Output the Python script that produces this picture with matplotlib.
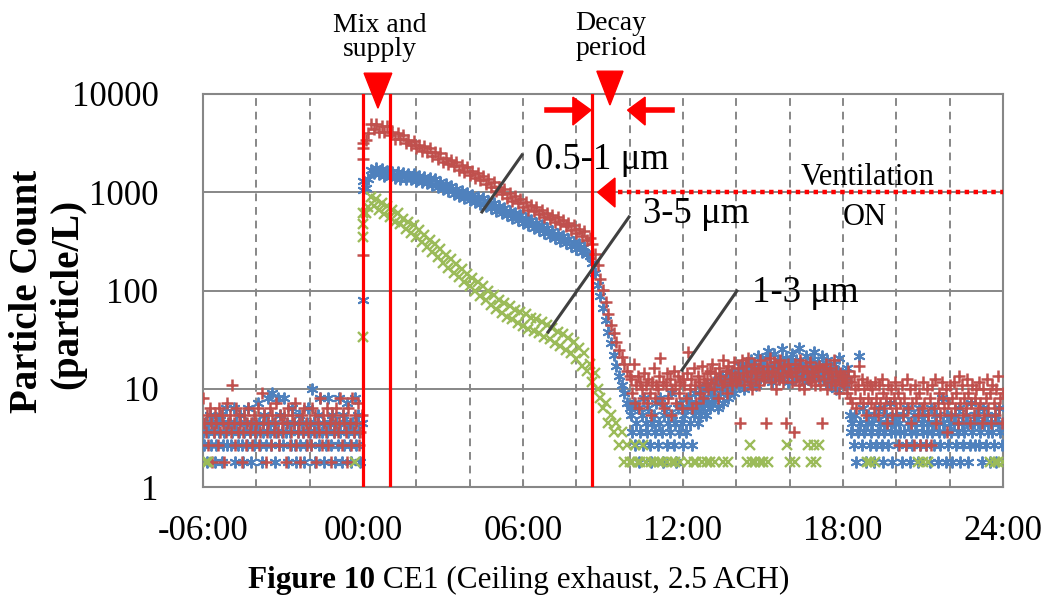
import numpy as np
import matplotlib
matplotlib.use("Agg")
import matplotlib.pyplot as plt
import matplotlib.transforms as mtransforms
from matplotlib.ticker import MultipleLocator, NullLocator

# Readings in particle/L. Background and ventilation periods are read every
# 0.05 h, the decay every 0.1 h; *_start are the readings logged at 00:00.
# 0.9 = a single count, which falls below the axis.

# 0.5-1 um (blue), from -6.0 h
blue_pre = [3.6, 2.7, 4.5, 1.8, 3.6, 5.4, 2.7, 4.5, 3.6, 1.8, 2.7, 4.5, 3.6, 5.4, 1.8, 2.7, 3.6, 6.3, 2.7, 4.5,
            4.5, 2.7, 3.6, 6.3, 1.8, 4.5, 2.7, 3.6, 5.4, 2.7, 1.8, 3.6, 4.5, 2.7, 6.3, 3.6, 1.8, 4.5, 2.7, 3.6,
            3.6, 7.2, 4.5, 2.7, 1.8, 3.6, 5.4, 2.7, 4.5, 8.1, 3.6, 2.7, 9.0, 4.5, 1.8, 3.6, 8.1, 2.7, 5.4, 3.6,
            2.7, 8.1, 3.6, 4.5, 1.8, 3.6, 2.7, 6.3, 4.5, 2.7, 1.8, 3.6, 5.4, 2.7, 4.5, 3.6, 1.8, 2.7, 4.5, 6.3,
            3.6, 2.7, 9.9, 4.5, 1.8, 3.6, 5.4, 2.7, 8.1, 3.6, 4.5, 1.8, 2.7, 3.6, 8.1, 4.5, 2.7, 5.4, 3.6, 1.8,
            4.5, 2.7, 8.1, 3.6, 1.8, 5.4, 2.7, 4.5, 7.2, 3.6, 2.7, 1.8, 4.5, 3.6, 8.1, 2.7, 5.4, 3.6, 1.8, 4.5]
blue_start = [80, 1050, 1300]
# from 0.1 h
blue_decay = [1100, 1380, 1700, 1560, 1780, 1520, 1720, 1470, 1660, 1440,
              1620, 1400, 1590, 1380, 1580, 1370, 1540, 1350, 1530, 1300,
              1480, 1270, 1430, 1230, 1400, 1190, 1350, 1140, 1280, 1080,
              1220, 1020, 1150, 970, 1090, 920, 1040, 870, 980, 830,
              940, 790, 900, 760, 870, 720, 810, 690, 770, 650,
              730, 610, 690, 580, 650, 550, 610, 520, 580, 490,
              550, 460, 520, 435, 485, 415, 460, 385, 430, 360,
              400, 340, 380, 320, 360, 305, 335, 285, 315, 265,
              295, 245, 275, 235, 225, 190, 150, 115, 88, 66,
              50, 38, 29, 22, 17.1, 13.5, 10.8, 9.0, 7.2, 6.3]
# from 10.05 h
blue_post = [5.4, 3.6, 7.2, 2.7, 4.5, 6.3, 1.8, 3.6, 5.4, 2.7, 8.1, 4.5, 3.6, 6.3, 2.7, 1.8, 4.5, 5.4, 3.6, 7.2,
             2.7, 4.5, 8.1, 3.6, 1.8, 5.4, 6.3, 2.7, 4.5, 3.6, 9.0, 5.4, 2.7, 4.5, 1.8, 6.3, 3.6, 7.2, 4.5, 2.7,
             5.4, 3.6, 6.3, 8.1, 4.5, 7.2, 2.7, 5.4, 9.0, 6.3, 4.5, 7.2, 5.4, 9.9, 6.3, 8.1, 5.4, 10.8, 7.2, 6.3,
             9.0, 7.2, 11.7, 8.1, 10.8, 6.3, 12.6, 9.0, 13.5, 7.2, 11.7, 9.9, 14.4, 8.1, 12.6, 10.8, 15.3, 9.0, 13.5, 11.7,
             14.4, 10.8, 17.1, 12.6, 15.3, 9.9, 18.0, 13.5, 16.2, 11.7, 19.8, 14.4, 12.6, 17.1, 10.8, 21.6, 15.3, 13.5, 18.9, 16.2,
             12.6, 20.7, 15.3, 24.3, 13.5, 17.1, 11.7, 22.5, 16.2, 14.4, 19.8, 12.6, 18.0, 25.2, 15.3, 13.5, 20.7, 16.2, 11.7, 18.9,
             14.4, 22.5, 17.1, 12.6, 19.8, 15.3, 26.1, 13.5, 18.0, 16.2, 11.7, 21.6, 14.4, 17.1, 12.6, 19.8, 15.3, 23.4, 13.5, 16.2,
             18.9, 12.6, 15.3, 21.6, 13.5, 17.1, 11.7, 19.8, 14.4, 10.8, 16.2, 12.6, 18.0, 13.5, 9.9, 15.3, 20.7, 12.6, 14.4, 11.7,
             13.5, 10.8, 16.2, 12.6, 5.4, 3.6, 4.5, 2.7, 5.4, 1.8, 3.6, 21.6, 4.5, 2.7, 6.3, 3.6, 1.8, 4.5, 5.4, 2.7,
             3.6, 4.5, 1.8, 5.4, 2.7, 3.6, 6.3, 4.5, 2.7, 1.8, 3.6, 5.4, 4.5, 2.7, 7.2, 3.6, 1.8, 4.5, 3.6, 5.4,
             2.7, 4.5, 3.6, 1.8, 5.4, 3.6, 2.7, 6.3, 4.5, 1.8, 3.6, 2.7, 5.4, 4.5, 3.6, 1.8, 6.3, 2.7, 4.5, 3.6,
             5.4, 2.7, 3.6, 4.5, 1.8, 6.3, 3.6, 2.7, 4.5, 5.4, 1.8, 3.6, 2.7, 8.1, 4.5, 3.6, 1.8, 5.4, 2.7, 4.5,
             3.6, 1.8, 4.5, 5.4, 2.7, 3.6, 6.3, 1.8, 4.5, 2.7, 3.6, 5.4, 4.5, 1.8, 2.7, 7.2, 3.6, 4.5, 2.7, 5.4,
             4.5, 2.7, 3.6, 1.8, 6.3, 4.5, 2.7, 5.4, 3.6, 1.8, 4.5, 3.6, 2.7, 5.4, 1.8, 4.5, 6.3, 3.6, 2.7, 4.5]

# 1-3 um (red)
red_pre = [8.1, 4.5, 3.6, 5.4, 2.7, 6.3, 4.5, 1.8, 3.6, 5.4, 4.5, 2.7, 6.3, 3.6, 5.4, 4.5, 1.8, 3.6, 7.2, 4.5,
           5.4, 3.6, 10.8, 4.5, 2.7, 6.3, 3.6, 5.4, 4.5, 1.8, 3.6, 5.4, 2.7, 4.5, 6.3, 3.6, 4.5, 2.7, 5.4, 3.6,
           4.5, 6.3, 2.7, 3.6, 9.0, 4.5, 5.4, 1.8, 3.6, 4.5, 6.3, 2.7, 5.4, 3.6, 4.5, 7.2, 3.6, 2.7, 5.4, 4.5,
           3.6, 5.4, 1.8, 4.5, 6.3, 2.7, 3.6, 5.4, 4.5, 7.2, 2.7, 3.6, 4.5, 1.8, 5.4, 3.6, 6.3, 4.5, 2.7, 3.6,
           4.5, 2.7, 6.3, 3.6, 5.4, 1.8, 4.5, 3.6, 8.1, 2.7, 5.4, 4.5, 3.6, 6.3, 2.7, 4.5, 1.8, 5.4, 3.6, 4.5,
           6.3, 3.6, 4.5, 8.1, 2.7, 5.4, 4.5, 3.6, 1.8, 6.3, 4.5, 2.7, 8.1, 3.6, 5.4, 4.5, 7.2, 2.7, 3.6, 5.4]
red_start = [230, 2200, 2800, 3200]
red_decay = [3400, 4050, 4950, 4450, 5000, 4150, 4700, 4100, 4700, 3850,
             4150, 3500, 4000, 3500, 3850, 3150, 3400, 3050, 3350, 2800,
             3050, 2650, 2950, 2550, 2850, 2350, 2560, 2200, 2480, 2050,
             2250, 1920, 2150, 1850, 2050, 1700, 1880, 1620, 1800, 1500,
             1650, 1400, 1560, 1320, 1480, 1220, 1350, 1120, 1260, 1030,
             1140, 950, 1070, 880, 990, 820, 910, 770, 850, 710,
             790, 665, 745, 640, 700, 605, 665, 560, 620, 530,
             590, 495, 560, 475, 525, 450, 490, 415, 465, 385,
             425, 355, 400, 330, 345, 300, 235, 180, 130, 102,
             76, 58, 45, 37, 30, 25, 21, 18, 15.3, 13.5]
red_post = [12.6, 9.0, 18.0, 7.2, 10.8, 13.5, 6.3, 11.7, 9.9, 8.1, 14.4, 10.8, 7.2, 12.6, 9.0, 5.4, 11.7, 16.2, 8.1, 10.8,
            9.9, 13.5, 20.7, 7.2, 11.7, 6.3, 10.8, 14.4, 8.1, 12.6, 5.4, 9.9, 15.3, 10.8, 7.2, 13.5, 9.0, 11.7, 6.3, 12.6,
            10.8, 8.1, 14.4, 23.4, 9.9, 12.6, 6.3, 16.2, 10.8, 7.2, 13.5, 11.7, 9.0, 17.1, 8.1, 12.6, 10.8, 14.4, 9.9, 15.3,
            11.7, 18.0, 9.9, 14.4, 12.6, 8.1, 16.2, 13.5, 10.8, 19.8, 11.7, 15.3, 9.0, 17.1, 12.6, 14.4, 10.8, 18.9, 13.5, 11.7,
            16.2, 12.6, 4.5, 19.8, 14.4, 10.8, 17.1, 13.5, 20.7, 11.7, 15.3, 9.9, 18.0, 14.4, 12.6, 16.2, 10.8, 19.8, 13.5, 15.3,
            12.6, 4.5, 17.1, 14.4, 20.7, 11.7, 15.3, 18.9, 13.5, 9.9, 16.2, 12.6, 19.8, 14.4, 11.7, 17.1, 4.5, 13.5, 18.0, 15.3,
            14.4, 11.7, 3.6, 18.0, 13.5, 16.2, 10.8, 19.8, 12.6, 15.3, 9.9, 17.1, 14.4, 12.6, 18.9, 11.7, 15.3, 13.5, 10.8, 16.2,
            13.5, 17.1, 10.8, 4.5, 15.3, 12.6, 18.0, 9.9, 14.4, 16.2, 11.7, 13.5, 19.8, 10.8, 15.3, 12.6, 9.0, 14.4, 11.7, 13.5,
            10.8, 12.6, 9.0, 15.3, 8.1, 11.7, 7.2, 13.5, 9.9, 6.3, 10.8, 17.1, 8.1, 12.6, 7.2, 9.9, 5.4, 11.7, 8.1, 10.8,
            7.2, 9.9, 6.3, 11.7, 8.1, 5.4, 10.8, 7.2, 12.6, 9.0, 6.3, 8.1, 4.5, 10.8, 7.2, 9.9, 5.4, 8.1, 11.7, 6.3,
            9.0, 2.7, 7.2, 10.8, 5.4, 8.1, 2.7, 12.6, 6.3, 9.9, 4.5, 7.2, 2.7, 10.8, 8.1, 5.4, 9.0, 2.7, 6.3, 11.7,
            7.2, 2.7, 9.9, 5.4, 8.1, 2.7, 10.8, 6.3, 12.6, 4.5, 7.2, 9.0, 5.4, 11.7, 8.1, 6.3, 9.9, 3.6, 7.2, 10.8,
            5.4, 8.1, 11.7, 6.3, 9.0, 4.5, 13.5, 7.2, 10.8, 5.4, 8.1, 6.3, 12.6, 9.0, 4.5, 7.2, 10.8, 5.4, 8.1, 9.9,
            6.3, 11.7, 7.2, 4.5, 9.9, 5.4, 8.1, 12.6, 6.3, 9.0, 4.5, 10.8, 7.2, 5.4, 9.9, 13.5, 6.3, 8.1, 4.5, 9.0]

# 3-5 um (green), read every 0.1 h outside the decay as well
green_pre = [0.9, 1.8, 1.8, 0.9, 0.9, 0.9, 0.9, 0.9, 0.9, 0.9,
             0.9, 0.9, 0.9, 0.9, 0.9, 0.9, 0.9, 0.9, 0.9, 0.9,
             0.9, 0.9, 0.9, 0.9, 0.9, 0.9, 0.9, 0.9, 0.9, 0.9,
             0.9, 0.9, 0.9, 0.9, 0.9, 0.9, 0.9, 0.9, 0.9, 0.9,
             0.9, 0.9, 0.9, 0.9, 0.9, 0.9, 0.9, 0.9, 0.9, 0.9,
             0.9, 0.9, 0.9, 0.9, 0.9, 0.9, 0.9, 1.8, 0.9, 0.9]
green_start = [34, 350, 470, 620]
green_decay = [620, 700, 900, 720, 860, 660, 780, 600, 720, 560,
               660, 500, 610, 470, 540, 420, 500, 385, 460, 350,
               410, 315, 370, 280, 330, 245, 295, 218, 262, 192,
               232, 170, 208, 152, 185, 136, 166, 122, 148, 110,
               134, 98, 121, 88, 110, 80, 99, 72, 90, 65,
               80, 59, 74, 54, 69, 51, 64, 47, 60, 44,
               57, 41, 53, 39, 51, 37, 48, 34, 45, 32,
               42, 29, 38, 27, 36, 25, 33, 23, 30, 20,
               26, 17.1, 23, 15.3, 18.0, 11.7, 14.4, 9.9, 8.1, 6.3,
               7.2, 4.5, 5.4, 3.6, 4.5, 2.7, 3.6, 1.8, 2.7, 1.8]
green_post = [1.8, 2.7, 1.8, 1.8, 2.7, 1.8, 0.9, 1.8, 1.8, 0.9,
              1.8, 1.8, 0.9, 1.8, 0.9, 1.8, 1.8, 0.9, 1.8, 0.9,
              0.9, 1.8, 0.9, 1.8, 1.8, 0.9, 1.8, 0.9, 1.8, 1.8,
              0.9, 1.8, 0.9, 0.9, 1.8, 0.9, 1.8, 0.9, 0.9, 0.9,
              0.9, 0.9, 0.9, 1.8, 2.7, 1.8, 1.8, 0.9, 1.8, 1.8,
              0.9, 1.8, 0.9, 0.9, 0.9, 0.9, 0.9, 0.9, 2.7, 1.8,
              0.9, 1.8, 0.9, 0.9, 0.9, 0.9, 2.7, 1.8, 2.7, 1.8,
              2.7, 0.9, 0.9, 0.9, 0.9, 0.9, 0.9, 0.9, 0.9, 0.9,
              0.9, 0.9, 0.9, 0.9, 0.9, 0.9, 0.9, 0.9, 1.8, 1.8,
              0.9, 1.8, 0.9, 0.9, 0.9, 0.9, 0.9, 0.9, 0.9, 0.9,
              0.9, 0.9, 0.9, 0.9, 0.9, 0.9, 0.9, 1.8, 0.9, 1.8,
              0.9, 1.8, 0.9, 0.9, 0.9, 0.9, 0.9, 0.9, 0.9, 0.9,
              0.9, 0.9, 0.9, 0.9, 0.9, 0.9, 0.9, 0.9, 0.9, 0.9,
              0.9, 0.9, 0.9, 0.9, 1.8, 0.9, 1.8, 1.8, 0.9, 1.8]

event_times = [0.0, 1.0, 8.6]
tick_hours = [-6, 0, 6, 12, 18, 24]
tick_labels = ["-06:00", "00:00", "06:00", "12:00", "18:00", "24:00"]
y_ticks = [1, 10, 100, 1000, 10000]

plt.rcParams["font.family"] = ["Liberation Serif", "DejaVu Serif"]
RED = "#FF0000"
GRID = "#878787"


def seg(t0, step, vals):
    return np.round(t0 + step * np.arange(len(vals)), 2), np.asarray(vals, float)


def series(*segs):
    t = np.concatenate([s[0] for s in segs])
    v = np.concatenate([s[1] for s in segs])
    return t, np.where(v >= 1, v, np.nan)   # single counts are off the scale


tb, vb = series(seg(-6.0, 0.05, blue_pre), seg(0.0, 0, blue_start),
                seg(0.1, 0.1, blue_decay), seg(10.05, 0.05, blue_post))
tr, vr = series(seg(-6.0, 0.05, red_pre), seg(0.0, 0, red_start),
                seg(0.1, 0.1, red_decay), seg(10.05, 0.05, red_post))
tg, vg = series(seg(-6.0, 0.1, green_pre), seg(0.0, 0, green_start),
                seg(0.1, 0.1, green_decay), seg(10.1, 0.1, green_post))

fig = plt.figure(figsize=(10.51, 6.0), dpi=100)
ax = fig.add_axes([203 / 1051, 1 - 487 / 600, 800 / 1051, 393 / 600])
ax.set_yscale("log")
ax.set_xlim(-6, 24)
ax.set_ylim(1, 10000)

ax.plot(tb, vb, ls="none", marker=(6, 2, 0), ms=8.5, mew=1.4, color="#4F81BD", zorder=3)
ax.plot(tr, vr, ls="none", marker="+", ms=9, mew=1.8, color="#C0504D", zorder=3)
ax.plot(tg, vg, ls="none", marker="x", ms=7.5, mew=1.7, color="#9BBB59", zorder=3)

for x in event_times:
    ax.axvline(x, color=RED, lw=2.3, zorder=5)

# axes styling
ax.set_xticks(tick_hours)
ax.set_xticklabels(tick_labels)
ax.xaxis.set_minor_locator(MultipleLocator(2))
ax.set_yticks(y_ticks)
ax.set_yticklabels([str(v) for v in y_ticks])
ax.yaxis.set_minor_locator(NullLocator())
ax.tick_params(axis="x", which="both", direction="in", length=5, color=GRID,
               labelsize=25, pad=20)
ax.tick_params(axis="y", length=0, labelsize=25, pad=32)
ax.xaxis.grid(True, which="both", ls=(0, (4, 3)), color=GRID, lw=1.4)
ax.yaxis.grid(True, which="major", ls="-", color=GRID, lw=1.4)
ax.set_axisbelow(True)
for s in ax.spines.values():
    s.set_color(GRID)
    s.set_linewidth(1.5)

# markers above the plot
top = mtransforms.blended_transform_factory(ax.transData, ax.transAxes)
ax.fill([0.04, 1.08, 0.56], [1.053, 1.053, 0.964], color=RED, transform=top, clip_on=False, zorder=6)
ax.fill([8.77, 9.75, 9.26], [1.058, 1.058, 0.972], color=RED, transform=top, clip_on=False, zorder=6)
ax.plot([6.9, 7.95], [0.959, 0.959], color=RED, lw=4, transform=top, clip_on=False, zorder=6)
ax.fill([8.55, 7.87, 7.87], [0.959, 0.992, 0.921], color=RED, transform=top, clip_on=False, zorder=6)
ax.plot([10.5, 11.59], [0.959, 0.959], color=RED, lw=4, transform=top, clip_on=False, zorder=6)
ax.fill([9.92, 10.58, 10.58], [0.959, 0.992, 0.921], color=RED, transform=top, clip_on=False, zorder=6)

ax.text(0.62, 1.158, "Mix and", transform=top, ha="center", va="baseline", fontsize=20)
ax.text(0.62, 1.096, "supply", transform=top, ha="center", va="baseline", fontsize=20)
ax.text(9.3, 1.163, "Decay", transform=top, ha="center", va="baseline", fontsize=20)
ax.text(9.3, 1.099, "period", transform=top, ha="center", va="baseline", fontsize=20)

# ventilation arrow
ax.plot([9.56, 24], [1000, 1000], color=RED, lw=3.2, ls=(0, (1, 1)), zorder=6,
        solid_capstyle="butt", dash_capstyle="butt")
ax.fill([8.8, 9.45, 9.45], [1000, 1396, 707], color=RED, zorder=6)
ax.text(18.92, 1186, "Ventilation", ha="center", va="baseline", fontsize=22)
ax.text(18.83, 464, "ON", ha="center", va="baseline", fontsize=22)

# size labels with leader lines
LEAD = "#404040"
ax.plot([5.96, 4.46], [2395, 630], color=LEAD, lw=2.2, zorder=6)
ax.plot([9.975, 6.94], [560, 37.8], color=LEAD, lw=2.2, zorder=6)
ax.plot([14.02, 11.96], [98.9, 15.5], color=LEAD, lw=2.2, zorder=6)
ax.text(6.45, 1725, "0.5-1 μm", ha="left", va="baseline", fontsize=26.5, zorder=7)
ax.text(10.5, 486, "3-5 μm", ha="left", va="baseline", fontsize=26.5, zorder=7)
ax.text(14.59, 76.4, "1-3 μm", ha="left", va="baseline", fontsize=26.5, zorder=7)

# y label
fig.text(28 / 1051, 1 - 291 / 600, "Particle Count", rotation=90, ha="center", va="center",
         fontsize=28, fontweight="bold")
fig.text(68 / 1051, 1 - 294 / 600, "(particle/L)", rotation=90, ha="center", va="center",
         fontsize=28, fontweight="bold")

# caption
cap1 = fig.text(248 / 1051, 0.02, "Figure 10", fontsize=22.5, fontweight="bold", va="baseline")
fig.canvas.draw()
bb = cap1.get_window_extent()
fig.text(bb.x1 / fig.bbox.width, 0.02, " CE1 (Ceiling exhaust, 2.5 ACH)", fontsize=22.5, va="baseline")

fig.savefig("out.png", dpi=100)
